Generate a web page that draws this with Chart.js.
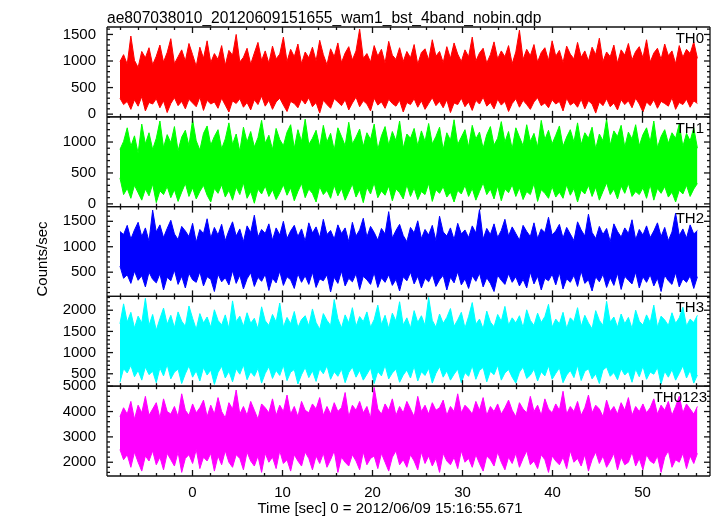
<!DOCTYPE html>
<html><head><meta charset="utf-8">
<script src="https://cdn.jsdelivr.net/npm/chart.js@4/dist/chart.umd.min.js"></script>
<style>html,body{margin:0;padding:0;background:#fff}</style>
</head><body>
<canvas id="c" width="717" height="516"></canvas>
<script>
const TITLE = "ae807038010_20120609151655_wam1_bst_4band_nobin.qdp";
const X_LABEL = "Time [sec] 0 = 2012/06/09 15:16:55.671";
const Y_LABEL = "Counts/sec";
const SERIES_NAMES = ["TH0", "TH1", "TH2", "TH3", "TH0123"];
const TIME_START = -8.06;
const TIME_END = 56.1;
const X_TICKS = [0, 10, 20, 30, 40, 50];

const Y_TICKS_TH0 = [0, 500, 1000, 1500];
const Y_TICKS_TH1 = [0, 500, 1000];
const Y_TICKS_TH2 = [500, 1000, 1500];
const Y_TICKS_TH3 = [500, 1000, 1500, 2000];
const Y_TICKS_TH0123 = [2000, 3000, 4000, 5000];

// per-bin maximum / minimum count rates (counts/sec)
const TH0_MAX = [990,1120,940,1470,1010,880,1180,1060,1250,930,1090,1300,980,1160,1420,950,1080,1210,1000,1330,
1120,900,1260,1050,1380,970,1140,1030,1290,920,1200,1110,1500,980,1070,1240,940,1150,1350,1010,
1190,960,1280,1040,1130,1450,990,1220,1080,1320,950,1170,1060,1260,1000,1390,1120,930,1230,1080,
1340,970,1150,1270,1020,1190,1600,1050,1140,980,1290,1090,1220,960,1370,1110,1030,1250,990,1180,
1060,1310,940,1160,1230,1020,1400,1090,1180,970,1270,1050,1340,1130,990,1210,1080,1450,1000,1150,
1240,960,1120,1360,1040,1190,1080,1290,950,1170,1580,1030,1220,1100,1310,980,1160,1250,1010,1380,
1090,1200,970,1280,1130,1040,1350,1070,1190,1000,1260,1120,1430,990,1170,1080,1300,960,1210,1110,
1330,1020,1180,1270,1060,1400,980,1150,1240,1030,1320,1100,1190,950,1290,1070,1220,1140,1360,1050];
const TH0_MIN = [300,180,240,90,270,150,330,60,220,190,290,120,250,30,200,310,160,240,100,280,
210,140,320,70,260,190,230,110,300,170,40,250,200,290,130,220,80,270,180,340,
150,260,90,230,300,170,50,240,200,120,280,190,310,140,220,20,260,180,110,290,
230,160,270,80,210,320,140,250,190,60,300,170,230,110,280,200,150,260,40,220,
180,290,130,250,90,200,310,160,240,120,270,30,210,180,300,140,230,70,260,190,
320,150,220,100,280,170,240,50,200,290,130,260,180,90,230,310,160,210,120,270,
190,240,60,300,170,220,130,280,100,250,190,20,230,160,290,140,210,80,270,180,
250,120,300,190,40,230,160,270,110,240,200,150,310,90,220,180,280,130,250,200];

const TH1_MAX = [880,1010,1230,930,1100,820,1290,970,1150,880,1060,1340,910,1120,990,1250,860,1080,1190,940,
1360,1020,870,1140,1260,950,1090,1200,890,1050,1310,960,1130,850,1240,1000,1170,920,1070,1350,
980,1110,880,1220,1040,940,1160,1280,900,1200,1010,1370,960,1060,1190,920,1270,1000,1140,870,
1230,1090,940,1320,970,1080,1210,930,1150,1040,1290,880,1100,1250,950,1170,1020,1340,900,1130,
1060,1220,940,1180,1010,1300,970,1090,1240,880,1150,1030,1360,960,1080,1200,920,1270,1050,1160,
900,1120,1250,950,1060,1330,1000,1170,890,1230,1080,940,1280,1010,1140,920,1350,1040,1190,970,
1110,1260,930,1080,1200,1000,1310,960,1150,1060,1240,890,1130,1020,1370,950,1180,1090,1270,920,
1160,1050,1280,940,1120,1230,1000,1340,910,1090,1200,980,1150,1060,1290,930,1140,1020,1230,900];
const TH1_MIN = [420,150,250,90,300,180,60,240,130,320,20,210,150,280,100,230,40,190,330,120,
260,80,200,300,140,30,250,170,310,110,220,60,270,150,340,90,200,10,240,160,
290,120,230,70,180,310,140,260,50,200,330,100,240,170,30,280,150,220,90,300,
130,250,60,190,320,110,230,20,270,160,340,100,210,140,290,50,240,180,80,310,
120,260,70,200,150,330,40,230,170,280,110,190,30,220,160,300,120,250,60,200,
340,150,240,80,290,50,240,180,310,120,260,70,200,150,330,40,230,170,90,280,
110,190,90,310,140,250,30,220,160,300,120,270,60,200,340,150,240,80,290,170,
330,120,200,150,260,90,310,60,250,170,280,110,190,30,220,160,300,120,240,330];

const TH2_MAX = [1300,1240,1420,1150,1330,1480,1200,1370,1110,1720,1290,1430,1180,1360,1520,1250,1140,1400,1310,1200,
1460,1090,1340,1260,1550,1170,1380,1230,1440,1120,1320,1490,1210,1350,1100,1410,1280,1620,1190,1340,
1260,1450,1130,1370,1230,1500,1160,1310,1420,1200,1350,1110,1470,1270,1390,1180,1540,1240,1320,1150,
1430,1260,1370,1100,1480,1210,1330,1560,1190,1400,1280,1130,1360,1250,1690,1170,1320,1440,1220,1100,
1380,1270,1510,1160,1340,1230,1420,1120,1600,1290,1210,1370,1140,1460,1250,1330,1180,1410,1270,1730,
1150,1360,1240,1450,1180,1320,1540,1210,1390,1260,1130,1420,1300,1200,1470,1160,1350,1280,1580,1230,
1310,1440,1170,1380,1250,1120,1490,1330,1210,1640,1280,1160,1400,1240,1360,1100,1450,1300,1190,1370,
1260,1530,1140,1340,1230,1410,1180,1310,1470,1200,1380,1120,1290,1660,1220,1350,1170,1430,1250,1320];
const TH2_MIN = [620,380,450,280,520,340,430,210,500,360,290,470,150,400,330,540,260,420,190,480,
350,300,510,230,410,360,120,460,310,390,250,530,280,440,170,370,490,220,400,320,
460,140,380,290,520,240,410,350,180,470,300,430,260,500,200,370,330,450,110,400,
280,520,230,380,310,470,160,420,350,260,490,200,390,300,450,240,360,130,410,330,
500,270,420,190,380,310,460,220,350,440,150,400,290,510,250,370,180,430,320,480,
210,390,280,120,440,340,260,470,300,410,230,360,190,500,270,420,150,380,330,460,
250,490,170,370,300,440,220,520,280,350,130,410,310,460,200,390,240,480,160,420,
340,270,500,190,410,300,450,230,380,120,440,330,260,490,210,370,300,430,180,410];

const TH3_MAX = [1680,2150,1720,1950,1580,1860,1700,2280,1640,1900,1530,1800,2050,1670,1880,1590,1960,1740,1620,2100,
1810,1550,1920,1700,1840,1600,2010,1760,1650,1890,1570,2220,1730,1860,1620,1940,1690,1810,1560,2080,
1750,1640,1900,1720,2170,1600,1830,1680,1970,1590,1780,1870,1630,2030,1710,1550,1920,1760,1640,2250,
1800,1580,1890,1700,2060,1620,1850,1730,1960,1600,1780,2120,1660,1880,1570,1930,1740,2200,1650,1820,
1580,1990,1710,1870,1640,2300,1760,1600,1910,1690,1830,2040,1620,1770,1950,1580,1850,2180,1670,1790,
1560,1980,1720,1610,1900,1740,2090,1650,1820,1700,1870,1590,2010,1760,1640,1930,1710,1850,2140,1600,
1790,1680,1950,1570,1820,1730,2060,1620,1880,1700,1560,1990,1760,1640,2210,1720,1840,1600,1910,1680,
1830,1570,2000,1740,1650,1890,1710,2120,1600,1860,1770,1640,1940,1690,1820,2070,1630,1790,1710,1880];
const TH3_MIN = [300,620,520,700,430,580,350,660,480,560,290,640,450,720,380,540,610,270,500,690,
420,570,330,650,470,590,250,530,680,400,560,310,620,490,710,360,550,440,630,280,
510,670,390,580,460,700,340,540,600,260,480,650,410,570,320,620,500,690,370,550,
440,610,290,530,660,420,580,350,490,640,270,560,450,700,380,520,610,300,470,590,
400,680,330,550,460,630,280,510,670,420,570,350,490,610,290,530,440,690,370,580,
650,310,560,480,700,350,520,600,420,280,540,660,390,470,610,330,550,450,690,370,
510,640,290,470,580,410,700,340,560,620,380,500,270,590,660,440,530,360,620,470,
560,300,610,430,680,370,540,490,650,260,560,420,600,350,510,690,400,580,280,470];

const TH0123_MAX = [3800,4150,3900,4400,3700,4250,3950,4600,3850,4100,4350,3750,4500,4000,3900,4200,3800,4700,4050,3850,
4300,3950,4150,4450,3800,4250,3900,4550,4000,3750,4350,4100,4850,3900,4200,3850,4400,4050,3700,4300,
4150,3950,4500,3850,4250,4000,4650,3900,4200,3800,4400,4050,3950,4300,4100,4550,3850,4200,3900,4350,
4000,4150,4750,3800,4250,4050,4400,3950,4200,3750,4950,4100,3900,4300,4050,4500,3850,4200,3950,4400,
4100,3800,4600,4000,4250,3900,4350,4050,4150,4450,3850,4200,4000,4700,3950,4250,4100,3900,4400,4050,
4550,3850,4200,4000,4300,3900,4150,4450,4050,3800,4350,4100,3950,4600,4000,4250,3850,4500,4100,3950,
4300,4050,4800,3900,4200,4000,4400,3850,4150,4650,3950,4250,4100,3800,4450,4000,4200,3900,4350,4050,
4550,3850,4200,4000,4300,3950,4150,4500,3900,4250,4050,4400,3850,4200,4600,3950,4300,4100,3900,4200];
const TH0123_MIN = [2500,2100,2300,1800,2400,2000,1650,2250,2050,2450,1900,2200,1700,2350,2100,1850,2400,1600,2150,2300,
1950,2500,1750,2200,2050,2350,1650,2250,1900,2450,2000,1800,2300,2150,1700,2400,2050,1850,2250,1600,
2350,2000,2200,1750,2450,1950,2100,1650,2300,2050,1850,2400,2150,1700,2250,1950,2350,1800,2100,2450,
1600,2200,2000,1850,2300,2050,1700,2400,1900,2150,2250,1750,2350,2000,1650,2200,2450,1900,2100,1800,
2300,2050,1700,2400,1950,2250,1850,2150,1600,2350,2050,1900,2200,1750,2450,2000,2150,1800,2300,1950,
1650,2250,2100,1850,2400,2000,1700,2200,1950,2350,1800,2150,2450,1900,2050,1750,2300,2100,1600,2250,
2050,1900,2200,1750,2450,2000,2150,1850,2300,1650,2100,2400,1950,2250,1800,2050,2350,1700,2200,1900,
2000,2400,1850,2150,1700,2300,2050,1950,2250,1600,2200,2450,1800,2100,2000,2350,1750,2250,1950,2350];

const SERIES_MAX = [TH0_MAX, TH1_MAX, TH2_MAX, TH3_MAX, TH0123_MAX];
const SERIES_MIN = [TH0_MIN, TH1_MIN, TH2_MIN, TH3_MIN, TH0123_MIN];
const Y_TICKS = [Y_TICKS_TH0, Y_TICKS_TH1, Y_TICKS_TH2, Y_TICKS_TH3, Y_TICKS_TH0123];
const COLORS = ["#ff0000", "#00ff00", "#0000ff", "#00ffff", "#ff00ff"];
const Y_MIN = [-50, -44, 24, 207, 1457];
const Y_MAX = [1640, 1408, 1789, 2326, 5000];
const Y_MINOR = [100, 100, 100, 100, 200];
const Y_MAJOR = [500, 500, 500, 500, 1000];

const FONT = '"Liberation Sans", Arial, Helvetica, sans-serif';

function toPoints(vals) {
  const dt = (TIME_END - TIME_START) / (vals.length - 1);
  return vals.map((v, i) => ({x: TIME_START + i * dt, y: v}));
}

const datasets = [];
SERIES_MAX.forEach((vals, i) => {
  datasets.push({
    label: SERIES_NAMES[i] + ' max',
    data: toPoints(vals),
    yAxisID: 'y' + i,
    borderColor: COLORS[i],
    backgroundColor: COLORS[i],
    borderWidth: 1,
    borderJoinStyle: 'bevel',
    pointRadius: 0,
    tension: 0,
    fill: '+1'
  });
  datasets.push({
    label: SERIES_NAMES[i] + ' min',
    data: toPoints(SERIES_MIN[i]),
    yAxisID: 'y' + i,
    borderColor: COLORS[i],
    backgroundColor: COLORS[i],
    borderWidth: 1,
    borderJoinStyle: 'bevel',
    pointRadius: 0,
    tension: 0,
    fill: false
  });
});

const scales = {
  x: {
    type: 'linear', position: 'bottom', min: -9.5, max: 57.5,
    grid: {display: false, drawTicks: false}, border: {display: false},
    afterBuildTicks: s => { s.ticks = X_TICKS.map(v => ({value: v})); },
    afterFit: s => { s.height = 40; },
    ticks: {autoSkip: false, maxRotation: 0, padding: 8, color: '#000',
      font: {family: FONT, size: 15}, callback: v => String(v)}
  }
};
SERIES_NAMES.forEach((_, i) => {
  scales['y' + i] = {
    type: 'linear', position: 'left', stack: 'panels', stackWeight: 1, weight: 5 - i,
    min: Y_MIN[i], max: Y_MAX[i],
    grid: {display: false, drawTicks: false}, border: {display: false},
    afterBuildTicks: s => { s.ticks = Y_TICKS[i].map(v => ({value: v})); },
    afterFit: s => { s.width = 107; },
    ticks: {autoSkip: false, padding: 11, color: '#000',
      font: {family: FONT, size: 15}, callback: v => String(v)}
  };
});

const decor = {
  id: 'decor',
  afterDraw(chart) {
    const ctx = chart.ctx, a = chart.chartArea, xs = chart.scales.x;
    ctx.save();
    ctx.strokeStyle = '#111';
    ctx.lineWidth = 1.3;
    const seg = (x1, y1, x2, y2) => { ctx.beginPath(); ctx.moveTo(x1, y1); ctx.lineTo(x2, y2); ctx.stroke(); };
    SERIES_NAMES.forEach((_, i) => {
      const ys = chart.scales['y' + i];
      const top = ys.top, bot = ys.bottom;
      for (let v = Math.ceil(xs.min / 2) * 2; v <= xs.max; v += 2) {
        const px = xs.getPixelForValue(v);
        const len = (v % 10 === 0) ? 6 : 3;
        seg(px, top, px, top + len);
        seg(px, bot, px, bot - len);
      }
      for (let v = Math.ceil(ys.min / Y_MINOR[i]) * Y_MINOR[i]; v <= ys.max; v += Y_MINOR[i]) {
        const py = ys.getPixelForValue(v);
        const len = (v % Y_MAJOR[i] === 0) ? 6 : 3;
        seg(a.left, py, a.left + len, py);
        seg(a.right, py, a.right - len, py);
      }
      seg(a.left, bot, a.right, bot);
      seg(a.left, top, a.right, top);
    });
    seg(a.left, a.top, a.left, a.bottom);
    seg(a.right, a.top, a.right, a.bottom);

    ctx.fillStyle = '#000';
    ctx.textBaseline = 'alphabetic';
    ctx.textAlign = 'left';
    ctx.font = '15.6px ' + FONT;
    ctx.fillText(TITLE, a.left, 23);
    ctx.font = '15px ' + FONT;
    ctx.textAlign = 'right';
    SERIES_NAMES.forEach((name, i) => {
      const ys = chart.scales['y' + i];
      ctx.fillText(name, a.right - (i === 4 ? 3 : 6), ys.top + 16);
    });
    ctx.textAlign = 'center';
    ctx.fillText(X_LABEL, 390, 513);
    ctx.translate(46.5, 259);
    ctx.rotate(-Math.PI / 2);
    ctx.fillText(Y_LABEL, 0, 0);
    ctx.restore();
  }
};

new Chart(document.getElementById('c'), {
  type: 'line',
  data: {datasets},
  options: {
    responsive: false, animation: false, devicePixelRatio: 1, events: [],
    layout: {padding: {top: 27, right: 7, left: 0, bottom: 0}},
    plugins: {legend: {display: false}, tooltip: {enabled: false}, title: {display: false}},
    scales
  },
  plugins: [decor]
});
</script>
</body></html>
